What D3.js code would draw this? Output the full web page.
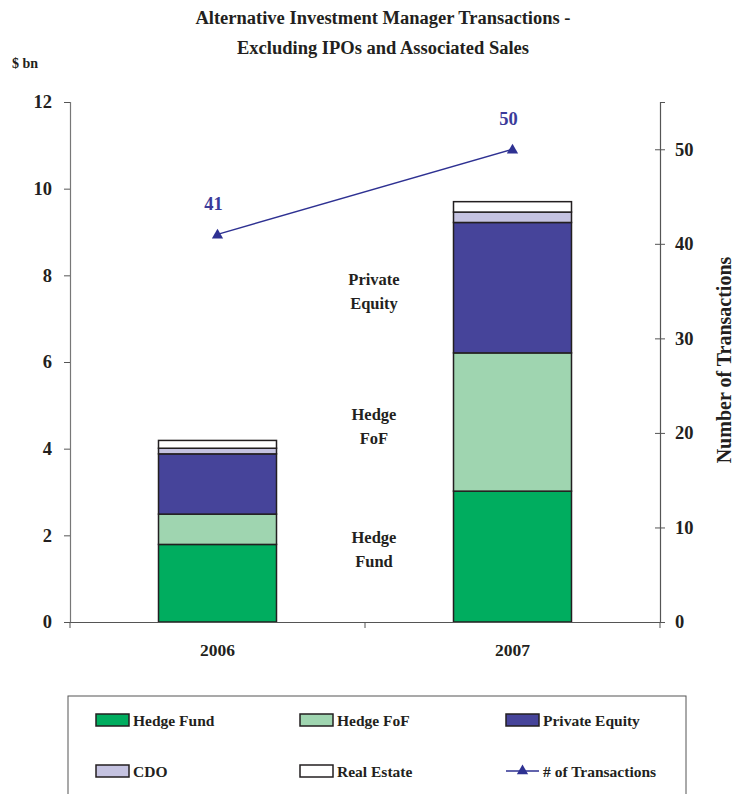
<!DOCTYPE html>
<html>
<head>
<meta charset="utf-8">
<script src="https://cdn.jsdelivr.net/npm/d3@7"></script>
<style>
  body { margin: 0; background: #fff; }
  svg text { font-family: "Liberation Serif", "Times New Roman", serif; font-weight: bold; fill: #231f20; }
</style>
</head>
<body>
<svg id="chart" width="736" height="794"></svg>
<script>
// Deal value by manager type ($ bn), stacked per year
const years = ["2006", "2007"];
const seriesNames = ["Hedge Fund", "Hedge FoF", "Private Equity", "CDO", "Real Estate"];
const hedgeFund = [1.79, 3.02];
const hedgeFoF = [0.70, 3.19];
const privateEquity = [1.39, 3.01];
const cdo = [0.13, 0.24];
const realEstate = [0.18, 0.24];
// Number of transactions (right axis)
const transactions = [41, 50];
const leftTicks = [0, 2, 4, 6, 8, 10, 12];
const rightTicks = [0, 10, 20, 30, 40, 50];

const colors = ["#00ad5f", "#9fd5b0", "#46449a", "#c5c3e1", "#ffffff"];
const lineColor = "#2e3192";

const svg = d3.select("#chart");
const plotL = 70, plotR = 660, plotT = 102, plotB = 622;

const x = d3.scaleBand().domain(years).range([plotL, plotR]).paddingInner(0.6).paddingOuter(0.3);
const y = d3.scaleLinear().domain([0, 12]).range([plotB, plotT]);
const y2 = d3.scaleLinear().domain([0, 55]).range([plotB, plotT]);

const rows = years.map((yr, i) => ({
  year: yr,
  "Hedge Fund": hedgeFund[i],
  "Hedge FoF": hedgeFoF[i],
  "Private Equity": privateEquity[i],
  "CDO": cdo[i],
  "Real Estate": realEstate[i]
}));
const stacked = d3.stack().keys(seriesNames)(rows);

// Title
svg.append("text").attr("x", 383).attr("y", 24).attr("text-anchor", "middle")
  .style("font-size", "18.5px").text("Alternative Investment Manager Transactions -");
svg.append("text").attr("x", 383).attr("y", 54).attr("text-anchor", "middle")
  .style("font-size", "18.5px").text("Excluding IPOs and Associated Sales");
svg.append("text").attr("x", 12).attr("y", 68).style("font-size", "14px").text("$ bn");

// Stacked bars
stacked.forEach((s, k) => {
  svg.append("g").selectAll("rect").data(s).join("rect")
    .attr("x", d => x(d.data.year))
    .attr("width", x.bandwidth())
    .attr("y", d => y(d[1]))
    .attr("height", d => y(d[0]) - y(d[1]))
    .attr("fill", colors[k])
    .attr("stroke", "#231f20")
    .attr("stroke-width", 1.5);
});

const tickFont = sel => sel.style("font-size", "18.5px").attr("fill", "#231f20")
  .style("font-family", "Liberation Serif, serif").style("font-weight", "bold");

// Left axis
const gL = svg.append("g").attr("transform", `translate(${plotL},0)`)
  .call(d3.axisLeft(y).tickValues(leftTicks).tickSize(6).tickPadding(12).tickFormat(d3.format("d")));
gL.select(".domain").attr("stroke", "#777").attr("stroke-width", 1.2);
gL.selectAll(".tick line").attr("stroke", "#555");
gL.selectAll(".tick text").call(tickFont);

// Right axis
const gR = svg.append("g").attr("transform", `translate(${plotR},0)`)
  .call(d3.axisRight(y2).tickValues(rightTicks).tickSize(5).tickPadding(10).tickFormat(d3.format("d")));
gR.select(".domain").attr("stroke", "#555").attr("stroke-width", 1.2);
gR.selectAll(".tick line").attr("x1", -5).attr("stroke", "#555");
gR.selectAll(".tick text").call(tickFont);

// Bottom axis
const gB = svg.append("g").attr("transform", `translate(0,${plotB})`)
  .call(d3.axisBottom(x).tickSize(0).tickPadding(22));
gB.select(".domain").attr("stroke", "#555").attr("stroke-width", 1.2);
gB.selectAll(".tick text").call(tickFont).style("font-size", "17.5px");
[plotL, (plotL + plotR) / 2, plotR].forEach(px => {
  gB.append("line").attr("x1", px).attr("x2", px).attr("y1", 0).attr("y2", 6).attr("stroke", "#555");
});

// Right axis title
svg.append("text").attr("transform", "translate(731,360) rotate(-90)")
  .attr("text-anchor", "middle").style("font-size", "20px").text("Number of Transactions");

// Series annotations
const notes = [
  { lines: ["Private", "Equity"], y: 285 },
  { lines: ["Hedge", "FoF"], y: 420 },
  { lines: ["Hedge", "Fund"], y: 543 }
];
notes.forEach(n => {
  n.lines.forEach((t, j) => {
    svg.append("text").attr("x", 374).attr("y", n.y + j * 24).attr("text-anchor", "middle")
      .style("font-size", "16.5px").text(t);
  });
});

// Transactions line
const cx = d => x(d) + x.bandwidth() / 2;
const line = d3.line().x((d, i) => cx(years[i])).y(d => y2(d));
svg.append("path").datum(transactions).attr("d", line)
  .attr("fill", "none").attr("stroke", lineColor).attr("stroke-width", 1.5);
const tri = d3.symbol().type(d3.symbolTriangle).size(55);
svg.append("g").selectAll("path").data(transactions).join("path")
  .attr("d", tri)
  .attr("transform", (d, i) => `translate(${cx(years[i])},${y2(d) + 1})`)
  .attr("fill", lineColor);
svg.append("g").selectAll("text").data(transactions).join("text")
  .attr("x", (d, i) => cx(years[i]) - 4)
  .attr("y", d => y2(d) - 24)
  .attr("text-anchor", "middle")
  .style("font-size", "18.5px").style("fill", "#3b3b9a")
  .text(d => d);

// Legend
svg.append("rect").attr("x", 68).attr("y", 696).attr("width", 618).attr("height", 110)
  .attr("fill", "none").attr("stroke", "#555").attr("stroke-width", 1);
const legendItems = seriesNames.map((n, i) => ({ name: n, type: "rect", color: colors[i] }))
  .concat([{ name: "# of Transactions", type: "line", color: lineColor }]);
const colX = [96, 300, 506], rowY = [720, 771];
legendItems.forEach((it, i) => {
  const lx = colX[i % 3], ly = rowY[Math.floor(i / 3)];
  const g = svg.append("g").attr("transform", `translate(${lx},${ly})`);
  if (it.type === "rect") {
    g.append("rect").attr("x", 0).attr("y", -6).attr("width", 33).attr("height", 12)
      .attr("fill", it.color).attr("stroke", "#231f20").attr("stroke-width", 1.5);
  } else {
    g.append("line").attr("x1", 0).attr("x2", 33).attr("y1", 0).attr("y2", 0)
      .attr("stroke", it.color).attr("stroke-width", 1.5);
    g.append("path").attr("d", tri).attr("transform", "translate(16.5,0)").attr("fill", it.color);
  }
  g.append("text").attr("x", 37).attr("y", 6).style("font-size", "15.5px").text(it.name);
});
</script>
</body>
</html>
